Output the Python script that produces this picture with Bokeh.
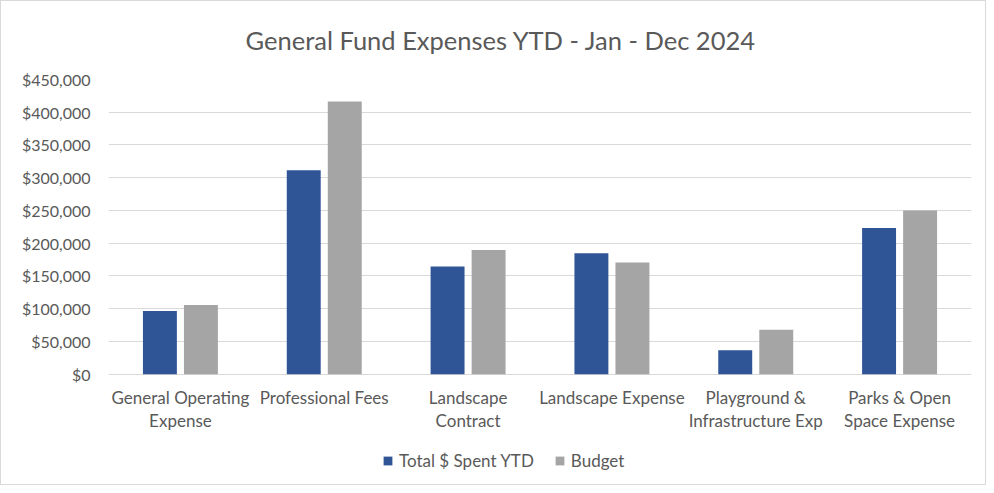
from bokeh.plotting import figure
from bokeh.models import ColumnDataSource, FactorRange, Range1d, FixedTicker, NumeralTickFormatter, Legend, LegendItem
from bokeh.transform import dodge
from bokeh.embed import file_html
from bokeh.resources import INLINE

categories = ["General Operating\nExpense", "Professional Fees", "Landscape\nContract",
              "Landscape Expense", "Playground &\nInfrastructure Exp", "Parks & Open\nSpace Expense"]
total_spent = [96400, 311500, 164400, 184600, 36500, 223200]
budget = [105500, 416500, 189700, 170500, 67900, 250100]
series_names = ["Total $ Spent YTD", "Budget"]
y_ticks = [0, 50000, 100000, 150000, 200000, 250000, 300000, 350000, 400000, 450000]

FONT = "Lato"
TXT = "#595959"

src = ColumnDataSource(dict(cat=categories, total=total_spent, budget=budget))

# the frame reaches down to the legend; value 0 sits where the reference's baseline is
p = figure(x_range=FactorRange(*categories), y_range=Range1d(-165500, 450000),
           width=986, height=485, output_backend="svg", toolbar_location=None,
           min_border_left=107, min_border_right=16, min_border_top=78, min_border_bottom=4)
p.styles = {"border": "1px solid #d9d9d9"}

r1 = p.vbar(x=dodge("cat", -0.1426, range=p.x_range), top="total", width=0.236, source=src,
            fill_color="#2F5597", line_color=None)
r2 = p.vbar(x=dodge("cat", 0.1426, range=p.x_range), top="budget", width=0.236, source=src,
            fill_color="#A5A5A5", line_color=None)

p.title.text = "General Fund Expenses YTD - Jan - Dec 2024"
p.title.align = "left"
p.title.offset = 137
p.title.vertical_align = "top"
p.title.text_font = FONT
p.title.text_font_size = "25.5px"
p.title.text_font_style = "normal"
p.title.text_color = TXT
p.title.standoff = 45

p.outline_line_color = None
p.xgrid.grid_line_color = None
p.ygrid.grid_line_color = "#d9d9d9"
p.ygrid.grid_line_width = 1

p.yaxis.ticker = FixedTicker(ticks=y_ticks)
p.yaxis.formatter = NumeralTickFormatter(format="$0,0")
p.xaxis.fixed_location = 0
for ax in (p.xaxis, p.yaxis):
    ax.axis_line_color = None
    ax.major_tick_line_color = None
    ax.minor_tick_line_color = None
    ax.major_label_text_font = FONT
    ax.major_label_text_color = TXT
p.yaxis.major_label_text_font_size = "16px"
p.xaxis.major_label_text_font_size = "17px"
p.xaxis.major_label_text_line_height = 1.08
p.yaxis.major_label_standoff = 12
p.xaxis.major_label_standoff = 7

legend = Legend(items=[LegendItem(label=series_names[0], renderers=[r1]),
                       LegendItem(label=series_names[1], renderers=[r2])],
                orientation="horizontal", location=(274, 11),
                label_text_font=FONT, label_text_font_size="17px", label_text_color=TXT,
                glyph_width=11, glyph_height=11, spacing=20, label_standoff=6,
                border_line_color=None, background_fill_alpha=0, padding=0, margin=0)
p.add_layout(legend, "center")

open("out.html", "w").write(file_html(p, INLINE))
